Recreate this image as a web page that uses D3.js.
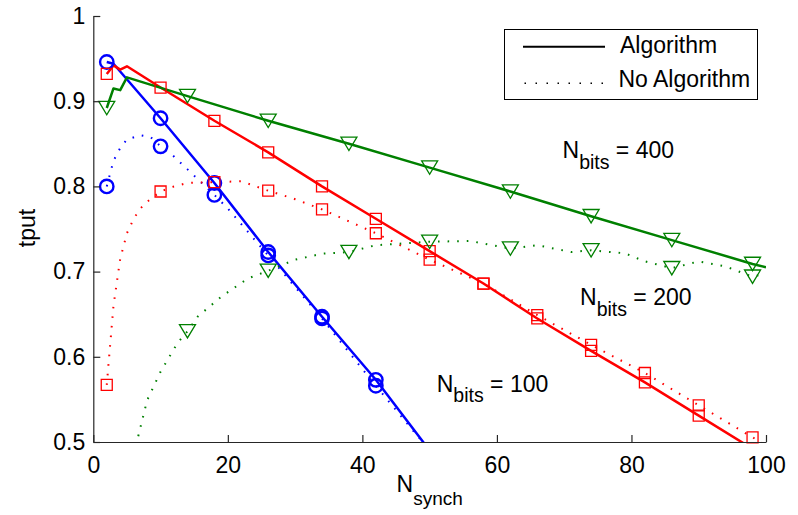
<!DOCTYPE html>
<html>
<head>
<meta charset="utf-8">
<script src="https://cdn.jsdelivr.net/npm/d3@7"></script>
<style>
  html, body { margin: 0; padding: 0; background: #fff; }
  svg { display: block; font-family: "Liberation Sans", Arial, Helvetica, sans-serif; }
</style>
</head>
<body>
<svg id="chart" width="798" height="515"></svg>
<script>
// ---- data -------------------------------------------------------------
// N_bits = 100
const synch100Alg   = [2, 3, 10, 18, 26, 34, 42, 50];
const tput100Alg    = [0.946, 0.944, 0.880, 0.804, 0.723, 0.647, 0.573, 0.490];
const synch100NoAlg = [2, 3, 4, 5, 7, 8.5, 10, 12, 14, 16, 18, 20, 26, 34, 42, 50];
const tput100NoAlg  = [0.800, 0.830, 0.845, 0.855, 0.860, 0.858, 0.847, 0.835, 0.820, 0.805, 0.790, 0.774, 0.719, 0.645, 0.566, 0.490];
const marks100      = [2, 10, 18, 26, 34, 42];

// N_bits = 200
const synch200Alg   = [2, 3, 4, 5, 10, 18, 26, 34, 42, 50, 58, 66, 74, 82, 90, 98];
const tput200Alg    = [0.932, 0.942, 0.937, 0.941, 0.916, 0.877, 0.840, 0.800, 0.762, 0.724, 0.686, 0.645, 0.607, 0.570, 0.531, 0.492];
const synch200NoAlg = [2, 3, 4, 5, 6, 7, 8, 10, 12, 14, 18, 22, 26, 30, 34, 42, 50, 58, 66, 74, 82, 90, 98, 100];
const tput200NoAlg  = [0.567, 0.660, 0.715, 0.745, 0.762, 0.774, 0.782, 0.794, 0.800, 0.804, 0.805, 0.806, 0.795, 0.785, 0.773, 0.745, 0.714, 0.686, 0.649, 0.614, 0.581, 0.543, 0.5055, 0.496];
const marks200      = [2, 10, 18, 26, 34, 42, 50, 58, 66, 74, 82, 90, 98];

// N_bits = 400
const synch400Alg   = [2, 3, 4, 5, 14, 26, 38, 50, 62, 74, 86, 98, 100];
const tput400Alg    = [0.892, 0.915, 0.913, 0.928, 0.906, 0.877, 0.850, 0.822, 0.794, 0.765, 0.737, 0.709, 0.705];
const synch400NoAlg = [6, 8, 10, 12.5, 14, 15.5, 19, 23, 26, 30, 34, 38, 42, 46, 50, 56, 62, 66, 71, 74, 79, 82, 86, 90, 94, 98, 100];
const tput400NoAlg  = [0.485, 0.549, 0.5825, 0.616, 0.630, 0.647, 0.6705, 0.692, 0.701, 0.714, 0.721, 0.723, 0.731, 0.733, 0.735, 0.736, 0.727, 0.731, 0.723, 0.725, 0.7215, 0.712, 0.704, 0.712, 0.706, 0.694, 0.698];
const marks400      = [2, 14, 26, 38, 50, 62, 74, 86, 98];

const xTicks = [0, 20, 40, 60, 80, 100];
const yTicks = [0.5, 0.6, 0.7, 0.8, 0.9, 1];
const yTickLabels = ["0.5", "0.6", "0.7", "0.8", "0.9", "1"];
const legendLabels = ["Algorithm", "No Algorithm"];
const bitsLabels = ["100", "200", "400"];

// ---- layout -----------------------------------------------------------
const svg = d3.select("#chart");
const X0 = 93.3, X1 = 766, Y0 = 442, Y1 = 16;
const x = d3.scaleLinear().domain([0, 100]).range([X0, X1]);
const y = d3.scaleLinear().domain([0.5, 1]).range([Y0, Y1]);
const AXIS = "#262626";
const FS = 23;

svg.append("defs").append("clipPath").attr("id", "plot-clip")
  .append("rect").attr("x", X0).attr("y", Y1).attr("width", X1 - X0).attr("height", Y0 - Y1);

// ---- series -----------------------------------------------------------
const zip = (xs, ys) => xs.map((v, i) => [v, ys[i]]);
const BLUE = "#0000ff", RED = "#ff0000", GREEN = "#008000";

const series = [
  { pts: zip(synch100Alg, tput100Alg),     marks: marks100, color: BLUE,  dotted: false, shape: "circle" },
  { pts: zip(synch100NoAlg, tput100NoAlg), marks: marks100, color: BLUE,  dotted: true,  shape: "circle" },
  { pts: zip(synch200Alg, tput200Alg),     marks: marks200, color: RED,   dotted: false, shape: "square" },
  { pts: zip(synch200NoAlg, tput200NoAlg), marks: marks200, color: RED,   dotted: true,  shape: "square" },
  { pts: zip(synch400Alg, tput400Alg),     marks: marks400, color: GREEN, dotted: false, shape: "triangle" },
  { pts: zip(synch400NoAlg, tput400NoAlg), marks: marks400, color: GREEN, dotted: true,  shape: "triangle" }
];

const line = d3.line().x(d => x(d[0])).y(d => y(d[1]));
const plot = svg.append("g");
const linesG = plot.append("g").attr("clip-path", "url(#plot-clip)");
const marksG = plot.append("g");

const shapes = {
  circle: d3.symbol().type(d3.symbolCircle).size(Math.PI * 6.7 * 6.7),
  square: d3.symbol().type(d3.symbolSquare).size(11 * 11)
};

series.forEach(s => {
  linesG.append("path")
    .datum(s.pts)
    .attr("d", line)
    .attr("fill", "none")
    .attr("stroke", s.color)
    .attr("stroke-width", s.dotted ? 2 : 2.5)
    .attr("stroke-dasharray", s.dotted ? "1.6 8" : null)
    .attr("stroke-linejoin", "round");

  const mpts = s.pts.filter(p => s.marks.includes(p[0]) && p[1] >= 0.5 && p[1] <= 1);
  const g = marksG.append("g");
  mpts.forEach(p => {
    const cx = x(p[0]), cy = y(p[1]);
    if (s.shape === "triangle") {
      g.append("path")
        .attr("d", `M${cx - 8},${cy - 6.7}L${cx + 8},${cy - 6.7}L${cx},${cy + 6.7}Z`)
        .attr("fill", "none").attr("stroke", s.color).attr("stroke-width", 1.3);
    } else {
      g.append("path")
        .attr("transform", `translate(${cx},${cy})`)
        .attr("d", shapes[s.shape]())
        .attr("fill", "none").attr("stroke", s.color)
        .attr("stroke-width", s.shape === "circle" ? 2.4 : 1.3);
    }
  });
});

// ---- axes -------------------------------------------------------------
const xAxis = d3.axisBottom(x).tickValues(xTicks).tickFormat(d3.format("d"))
  .tickSizeInner(-7).tickSizeOuter(0).tickPadding(15);
const yAxis = d3.axisLeft(y).tickValues(yTicks).tickFormat((d, i) => yTickLabels[i])
  .tickSizeInner(-7).tickSizeOuter(0).tickPadding(8);

const gx = svg.append("g").attr("transform", `translate(0,${Y0})`).call(xAxis);
const gy = svg.append("g").attr("transform", `translate(${X0},0)`).call(yAxis);
[gx, gy].forEach(g => {
  g.selectAll("path, line").attr("stroke", AXIS).attr("stroke-width", 1.2);
  g.selectAll("text").attr("fill", "#000").attr("font-size", FS)
    .attr("font-family", "\"Liberation Sans\", Arial, sans-serif");
});

// axis titles
const xt = svg.append("text").attr("x", (X0 + X1) / 2).attr("y", 492)
  .attr("text-anchor", "middle").attr("font-size", FS).attr("fill", "#000");
xt.append("tspan").text("N");
xt.append("tspan").attr("dy", 13).attr("font-size", 19).text("synch");

svg.append("text").attr("transform", "translate(35,228) rotate(-90)")
  .attr("text-anchor", "middle").attr("font-size", FS).attr("fill", "#000").text("tput");

// ---- N_bits annotations -----------------------------------------------
const notes = [
  { label: bitsLabels[2], px: 562.5, py: 158.3 },
  { label: bitsLabels[1], px: 580,   py: 305 },
  { label: bitsLabels[0], px: 436.7, py: 391.7 }
];
notes.forEach(n => {
  const t = svg.append("text").attr("x", n.px).attr("y", n.py)
    .attr("font-size", FS).attr("fill", "#000");
  t.append("tspan").text("N");
  t.append("tspan").attr("dy", 10.5).attr("font-size", 19.5).text("bits");
  t.append("tspan").attr("dy", -10.5).text(" = " + n.label);
});

// ---- legend -----------------------------------------------------------
const lg = svg.append("g");
lg.append("rect").attr("x", 504.5).attr("y", 29.5).attr("width", 253).attr("height", 70)
  .attr("fill", "#fff").attr("stroke", "#000").attr("stroke-width", 1);
lg.append("line").attr("x1", 523).attr("x2", 605).attr("y1", 46.7).attr("y2", 46.7)
  .attr("stroke", "#000").attr("stroke-width", 2);
lg.append("line").attr("x1", 524.5).attr("x2", 605).attr("y1", 83.3).attr("y2", 83.3)
  .attr("stroke", "#000").attr("stroke-width", 1.6).attr("stroke-dasharray", "1.5 9.5");
lg.append("text").attr("x", 620).attr("y", 52.8).attr("font-size", FS).attr("fill", "#000").text(legendLabels[0]);
lg.append("text").attr("x", 618.5).attr("y", 87).attr("font-size", FS).attr("fill", "#000").text(legendLabels[1]);
</script>
</body>
</html>
